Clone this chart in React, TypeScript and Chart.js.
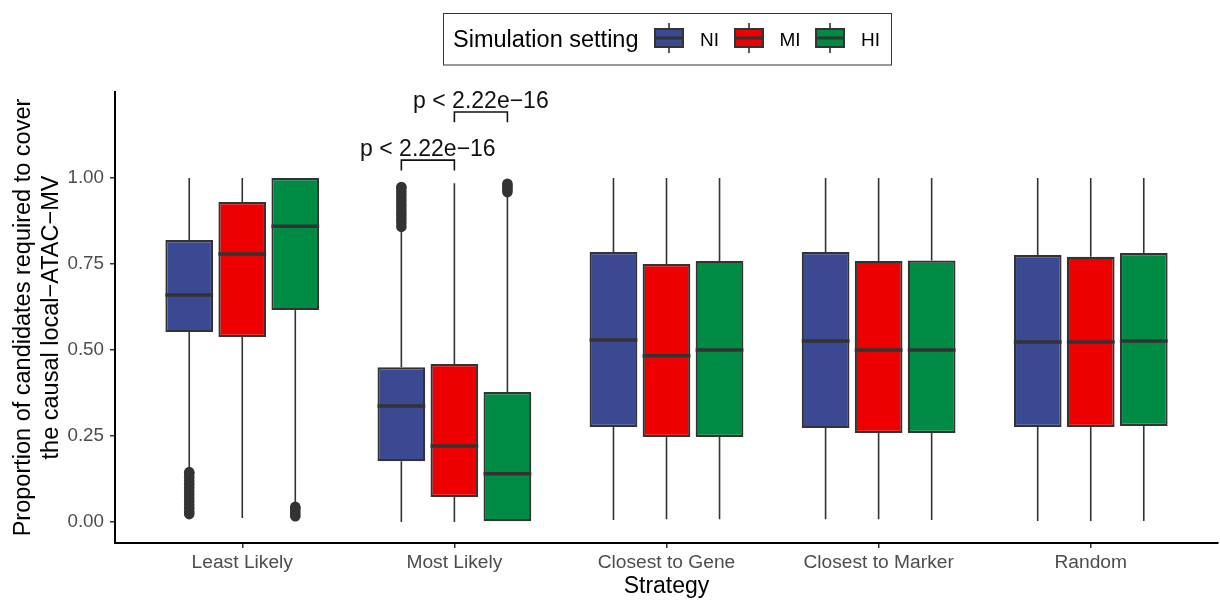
import React, { useEffect, useRef } from "react";
import { Chart, registerables } from "chart.js";

Chart.register(...registerables);

const FONT = "'Liberation Sans', Arial, Helvetica, sans-serif";

const strategies = ["Least Likely", "Most Likely", "Closest to Gene", "Closest to Marker", "Random"];
const settings = ["NI", "MI", "HI"];
const settingColors = ["#3B4992", "#EE0000", "#008B45"];

const yTicks = [0, 0.25, 0.5, 0.75, 1.0];

// NI
const niLow = [0.15, 0.0, 0.006, 0.008, 0.003];
const niQ1 = [0.552, 0.177, 0.276, 0.273, 0.276];
const niMed = [0.66, 0.337, 0.529, 0.526, 0.523];
const niQ3 = [0.82, 0.45, 0.785, 0.785, 0.776];
const niHigh = [1.0, 0.843, 1.0, 1.0, 1.0];
const niOut = [
  [0.023, 0.03, 0.04, 0.05, 0.06, 0.07, 0.08, 0.09, 0.1, 0.11, 0.12, 0.13, 0.14, 0.145],
  [0.858, 0.87, 0.88, 0.89, 0.9, 0.91, 0.92, 0.93, 0.94, 0.95, 0.96, 0.97, 0.974],
  [],
  [],
  [],
];

// MI
const miLow = [0.012, 0.0, 0.008, 0.008, 0.003];
const miQ1 = [0.538, 0.073, 0.247, 0.259, 0.276];
const miMed = [0.779, 0.221, 0.483, 0.5, 0.523];
const miQ3 = [0.93, 0.459, 0.75, 0.759, 0.771];
const miHigh = [1.0, 0.985, 1.0, 1.0, 1.0];
const miOut = [[], [], [], [], []];

// HI
const hiLow = [0.05, 0.0, 0.008, 0.006, 0.003];
const hiQ1 = [0.616, 0.0, 0.247, 0.259, 0.279];
const hiMed = [0.86, 0.14, 0.5, 0.5, 0.526];
const hiQ3 = [1.0, 0.378, 0.759, 0.76, 0.782];
const hiHigh = [1.0, 0.955, 1.0, 1.0, 1.0];
const hiOut = [
  [0.017, 0.025, 0.033, 0.04, 0.044],
  [0.959, 0.965, 0.972, 0.978, 0.983],
  [],
  [],
  [],
];

// significance brackets
const sigStrategy = [1, 1];
const sigFrom = [0, 1];
const sigTo = [1, 2];
const sigY = [1.052, 1.192];
const sigTip = [0.03, 0.03];
const sigLabel = ["p < 2.22e\u221216", "p < 2.22e\u221216"];

const lows = [niLow, miLow, hiLow];
const q1s = [niQ1, miQ1, hiQ1];
const meds = [niMed, miMed, hiMed];
const q3s = [niQ3, miQ3, hiQ3];
const highs = [niHigh, miHigh, hiHigh];
const outs = [niOut, miOut, hiOut];

const EDGE = "#333333";

const boxPlugin = {
  id: "boxExtras",
  beforeDatasetsDraw(chart: any) {
    const ctx = chart.ctx;
    const y = chart.scales.y;
    ctx.save();
    ctx.strokeStyle = EDGE;
    ctx.lineWidth = 1.6;
    for (let d = 0; d < settings.length; d++) {
      const meta = chart.getDatasetMeta(d);
      meta.data.forEach((el: any, i: number) => {
        const x = el.x;
        ctx.beginPath();
        ctx.moveTo(x, y.getPixelForValue(lows[d][i]));
        ctx.lineTo(x, y.getPixelForValue(q1s[d][i]));
        ctx.moveTo(x, y.getPixelForValue(q3s[d][i]));
        ctx.lineTo(x, y.getPixelForValue(highs[d][i]));
        ctx.stroke();
      });
    }
    ctx.restore();
  },
  afterDatasetsDraw(chart: any) {
    const ctx = chart.ctx;
    const y = chart.scales.y;
    ctx.save();
    for (let d = 0; d < settings.length; d++) {
      const meta = chart.getDatasetMeta(d);
      meta.data.forEach((el: any, i: number) => {
        const x = el.x;
        const w = el.width;
        const ym = y.getPixelForValue(meds[d][i]);
        ctx.strokeStyle = EDGE;
        ctx.lineWidth = 3.5;
        ctx.beginPath();
        ctx.moveTo(x - w / 2, ym);
        ctx.lineTo(x + w / 2, ym);
        ctx.stroke();
        ctx.fillStyle = EDGE;
        outs[d][i].forEach((v: number) => {
          ctx.beginPath();
          ctx.arc(x, y.getPixelForValue(v), 5.3, 0, Math.PI * 2);
          ctx.fill();
        });
      });
    }
    for (let k = 0; k < sigLabel.length; k++) {
      const x1 = chart.getDatasetMeta(sigFrom[k]).data[sigStrategy[k]].x;
      const x2 = chart.getDatasetMeta(sigTo[k]).data[sigStrategy[k]].x;
      const yl = y.getPixelForValue(sigY[k]);
      const yt = y.getPixelForValue(sigY[k] - sigTip[k]);
      ctx.strokeStyle = "#111111";
      ctx.lineWidth = 1.6;
      ctx.beginPath();
      ctx.moveTo(x1, yt);
      ctx.lineTo(x1, yl);
      ctx.lineTo(x2, yl);
      ctx.lineTo(x2, yt);
      ctx.stroke();
      ctx.fillStyle = "#111111";
      ctx.font = `23px ${FONT}`;
      ctx.textAlign = "center";
      ctx.textBaseline = "alphabetic";
      ctx.fillText(sigLabel[k], (x1 + x2) / 2, yl - 4);
    }
    ctx.restore();
  },
  afterDraw(chart: any) {
    const ctx = chart.ctx;
    ctx.save();
    ctx.strokeStyle = "#333333";
    ctx.lineWidth = 1;
    ctx.strokeRect(443.5, 13.5, 448, 51.5);
    ctx.fillStyle = "#000000";
    ctx.font = `23.5px ${FONT}`;
    ctx.textAlign = "left";
    ctx.textBaseline = "alphabetic";
    ctx.fillText("Simulation setting", 453, 47);
    const keyX = [655, 735, 816];
    const labX = [700, 779.5, 861];
    for (let i = 0; i < settings.length; i++) {
      const x0 = keyX[i];
      const cx = x0 + 14;
      ctx.strokeStyle = EDGE;
      ctx.lineWidth = 1.6;
      ctx.beginPath();
      ctx.moveTo(cx, 23);
      ctx.lineTo(cx, 29);
      ctx.moveTo(cx, 47);
      ctx.lineTo(cx, 53);
      ctx.stroke();
      ctx.fillStyle = settingColors[i];
      ctx.fillRect(x0, 29, 28, 18);
      ctx.lineWidth = 2;
      ctx.strokeRect(x0, 29, 28, 18);
      ctx.lineWidth = 3;
      ctx.beginPath();
      ctx.moveTo(x0, 38);
      ctx.lineTo(x0 + 28, 38);
      ctx.stroke();
      ctx.fillStyle = "#000000";
      ctx.font = `19px ${FONT}`;
      ctx.fillText(settings[i], labX[i], 46);
    }
    ctx.restore();
  },
};

export default function App() {
  const ref = useRef<HTMLCanvasElement | null>(null);

  useEffect(() => {
    document.body.style.margin = "0";
    const canvas = ref.current;
    if (!canvas) return;
    const datasets = settings.map((s, d) => ({
      label: s,
      data: strategies.map((_, i) => ({ x: i, y: [q1s[d][i], q3s[d][i]] })),
      backgroundColor: settingColors[d],
      borderColor: EDGE,
      borderWidth: 2.2,
      borderSkipped: false,
      categoryPercentage: 0.75,
      barPercentage: 0.9,
    }));

    const chart = new Chart(canvas, {
      type: "bar",
      data: { datasets: datasets as any },
      plugins: [boxPlugin],
      options: {
        responsive: false,
        animation: false,
        layout: { padding: { top: 92, right: 2, left: 0, bottom: 0 } },
        plugins: {
          legend: { display: false },
          tooltip: { enabled: false },
        },
        scales: {
          x: {
            type: "linear",
            min: -0.6,
            max: 4.6,
            offset: false,
            afterBuildTicks: (s: any) => {
              s.ticks = strategies.map((_, i) => ({ value: i }));
            },
            afterFit: (s: any) => {
              s.height = 58;
            },
            ticks: {
              callback: (v: any) => strategies[v as number],
              color: "#4D4D4D",
              font: { size: 19.2, family: FONT },
              padding: 3,
              autoSkip: false,
              maxRotation: 0,
            },
            grid: {
              display: true,
              offset: false,
              drawOnChartArea: false,
              drawTicks: true,
              tickLength: 5,
              color: "#333333",
              lineWidth: 1.5,
            },
            border: { display: true, color: "#000000", width: 2 },
            title: {
              display: true,
              text: "Strategy",
              color: "#000000",
              font: { size: 23, family: FONT },
              padding: { top: 0, bottom: 1 },
            },
          },
          y: {
            type: "linear",
            min: -0.061,
            max: 1.25,
            afterBuildTicks: (s: any) => {
              s.ticks = yTicks.map((v) => ({ value: v }));
            },
            afterFit: (s: any) => {
              s.width = 115;
            },
            ticks: {
              callback: (v: any) => Number(v).toFixed(2),
              color: "#4D4D4D",
              font: { size: 18.8, family: FONT },
              padding: 6,
            },
            grid: {
              display: true,
              drawOnChartArea: false,
              drawTicks: true,
              tickLength: 5,
              color: "#333333",
              lineWidth: 1.5,
            },
            border: { display: true, color: "#000000", width: 2 },
            title: {
              display: true,
              text: ["Proportion of candidates required to cover", "the causal local\u2212ATAC\u2212MV"],
              color: "#000000",
              font: { size: 23.5, family: FONT },
              padding: { top: 9, bottom: 0 },
            },
          },
        },
      } as any,
    });
    return () => chart.destroy();
  }, []);

  return (
    <div style={{ width: 1220, height: 601 }}>
      <canvas ref={ref} width={1220} height={601} style={{ display: "block" }} />
    </div>
  );
}
